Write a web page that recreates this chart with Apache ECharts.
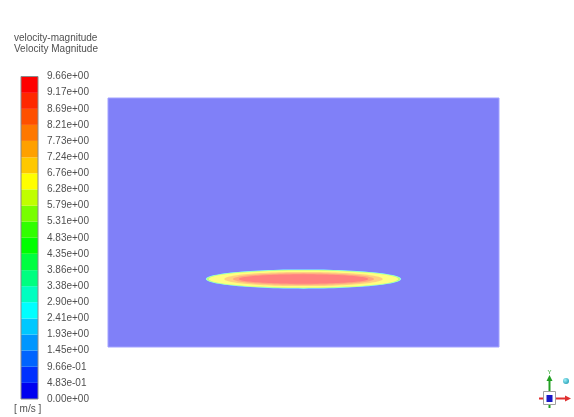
<!DOCTYPE html>
<html>
<head>
<meta charset="utf-8">
<title>velocity-magnitude</title>
<script src="https://cdn.jsdelivr.net/npm/echarts@6/dist/echarts.min.js"></script>
<style>
  html, body { margin: 0; padding: 0; background: #ffffff; }
  #chart { width: 574px; height: 417px; }
</style>
</head>
<body>
<div id="chart"></div>
<script>
// Contour levels of the colour map [m/s]
const levels = [0, 0.483, 0.966, 1.45, 1.93, 2.41, 2.90, 3.38, 3.86, 4.35, 4.83,
                5.31, 5.79, 6.28, 6.76, 7.24, 7.73, 8.21, 8.69, 9.17, 9.66];
const tickLabels = ['0.00e+00', '4.83e-01', '9.66e-01', '1.45e+00', '1.93e+00', '2.41e+00',
                    '2.90e+00', '3.38e+00', '3.86e+00', '4.35e+00', '4.83e+00', '5.31e+00',
                    '5.79e+00', '6.28e+00', '6.76e+00', '7.24e+00', '7.73e+00', '8.21e+00',
                    '8.69e+00', '9.17e+00', '9.66e+00'];

// Computational domain extents
const domainX = [0, 1.57];
const domainY = [0, 1];

// Jet region: lower bound of each contour band, with its half length / half height
const jetCenter = [0.785, 0.273];
const jetBandValue = [2.41, 5.31, 6.28, 7.24, 8.21, 9.17];
const jetHalfLength = [0.392, 0.389, 0.380, 0.318, 0.283, 0.260];
const jetHalfHeight = [0.0386, 0.0366, 0.0342, 0.0285, 0.0237, 0.0190];

// Rainbow palette, one colour per band (lowest first)
const bandColors = ['#0000f0', '#0030ff', '#0064ff', '#0096ff', '#00c8ff', '#00ffff',
                    '#00ffc0', '#00ff80', '#00ff40', '#00ff00', '#30ff00', '#78ff00',
                    '#c0ff00', '#ffff00', '#ffc800', '#ffa000', '#ff7800', '#ff5000',
                    '#ff2800', '#ff0000'];

function bandIndex(v) {
  for (let i = levels.length - 2; i >= 0; i--) {
    if (v >= levels[i] - 1e-9) return i;
  }
  return 0;
}
// Contours are shown semi-transparent over a white background
function washed(hex) {
  const r = parseInt(hex.slice(1, 3), 16), g = parseInt(hex.slice(3, 5), 16), b = parseInt(hex.slice(5, 7), 16);
  const m = c => Math.round(c * 0.5 + 255 * 0.5);
  return 'rgb(' + m(r) + ',' + m(g) + ',' + m(b) + ')';
}

const chart = echarts.init(document.getElementById('chart'), null, { renderer: 'canvas' });
const FONT = 'Liberation Sans, Arial, sans-serif';
const TEXT = '#505050';

const colorbarData = [];
for (let i = 0; i < levels.length - 1; i++) colorbarData.push([levels[i], levels[i + 1]]);

const jetData = jetBandValue.map((v, i) => [v, jetHalfLength[i], jetHalfHeight[i]]);

chart.setOption({
  animation: false,
  backgroundColor: '#ffffff',
  grid: [
    { left: 108, top: 98, width: 391, height: 249, show: false },
    { left: 21, top: 76.5, width: 17, height: 322.5, show: true, borderColor: '#8a8a8a', borderWidth: 1, backgroundColor: 'transparent', z: 5 }
  ],
  xAxis: [
    { gridIndex: 0, type: 'value', min: domainX[0], max: domainX[1], show: false },
    { gridIndex: 1, type: 'value', min: 0, max: 1, show: false }
  ],
  yAxis: [
    { gridIndex: 0, type: 'value', min: domainY[0], max: domainY[1], show: false },
    {
      gridIndex: 1, type: 'value', position: 'right',
      min: levels[0], max: levels[levels.length - 1], interval: levels[1] - levels[0],
      axisLine: { show: false }, axisTick: { show: false }, splitLine: { show: false },
      axisLabel: {
        margin: 9, color: TEXT, fontSize: 10, fontFamily: FONT,
        showMinLabel: true, showMaxLabel: true,
        formatter: v => tickLabels[Math.round(v / (levels[1] - levels[0]))]
      }
    }
  ],
  graphic: [
    { type: 'text', left: 14, top: 33.5, style: { text: 'velocity-magnitude', fill: TEXT, font: '10px ' + FONT } },
    { type: 'text', left: 14, top: 44.5, style: { text: 'Velocity Magnitude', fill: TEXT, font: '10px ' + FONT } },
    { type: 'text', left: 14, top: 404, style: { text: '[ m/s ]', fill: TEXT, font: '10px ' + FONT } },
    // coordinate triad
    { type: 'group', children: [
      { type: 'line', shape: { x1: 549.5, y1: 391, x2: 549.5, y2: 380 }, style: { stroke: '#22a022', lineWidth: 2 } },
      { type: 'polygon', shape: { points: [[546.5, 381], [552.5, 381], [549.5, 375]] }, style: { fill: '#22a022' } },
      { type: 'text', style: { text: 'Y', x: 549.5, y: 372, fill: '#22a022', font: '6px ' + FONT, align: 'center', verticalAlign: 'middle' } },
      { type: 'line', shape: { x1: 556, y1: 398.5, x2: 566, y2: 398.5 }, style: { stroke: '#e03030', lineWidth: 2 } },
      { type: 'polygon', shape: { points: [[565, 395.5], [565, 401.5], [571, 398.5]] }, style: { fill: '#e03030' } },
      { type: 'line', shape: { x1: 539, y1: 398.5, x2: 543, y2: 398.5 }, style: { stroke: '#e03030', lineWidth: 2 } },
      { type: 'line', shape: { x1: 549.5, y1: 404, x2: 549.5, y2: 408 }, style: { stroke: '#22a022', lineWidth: 2 } },
      { type: 'rect', shape: { x: 543.5, y: 391.5, width: 12, height: 13 }, style: { fill: 'none', stroke: '#a0a0a0', lineWidth: 1 } },
      { type: 'rect', shape: { x: 546.5, y: 395, width: 6, height: 7 }, style: { fill: '#1818c8' } },
      { type: 'circle', shape: { cx: 566, cy: 381, r: 3 }, style: {
        fill: new echarts.graphic.RadialGradient(0.35, 0.35, 0.8, [
          { offset: 0, color: '#9ff0f8' }, { offset: 1, color: '#1898b0' }])
      } }
    ] }
  ],
  series: [
    {
      // background field (lowest band fills the domain)
      type: 'custom', xAxisIndex: 0, yAxisIndex: 0, coordinateSystem: 'cartesian2d',
      data: [[domainX[0], domainX[1], domainY[0], domainY[1], levels[0]]],
      renderItem: (params, api) => {
        const p0 = api.coord([api.value(0), api.value(3)]);
        const p1 = api.coord([api.value(1), api.value(2)]);
        return {
          type: 'rect',
          shape: { x: p0[0], y: p0[1], width: p1[0] - p0[0], height: p1[1] - p0[1] },
          style: { fill: washed(bandColors[bandIndex(api.value(4))]), stroke: '#a2a2ff', lineWidth: 1 }
        };
      },
      silent: true, z: 1
    },
    {
      // nested contour bands of the jet
      type: 'custom', xAxisIndex: 0, yAxisIndex: 0, coordinateSystem: 'cartesian2d',
      data: jetData,
      renderItem: (params, api) => {
        const a = api.value(1), b = api.value(2);
        const pts = [];
        for (let k = 0; k < 120; k++) {
          const t = k / 120 * Math.PI * 2;
          pts.push(api.coord([jetCenter[0] + a * Math.cos(t), jetCenter[1] + b * Math.sin(t)]));
        }
        return {
          type: 'polygon', shape: { points: pts },
          style: { fill: washed(bandColors[bandIndex(api.value(0))]) }
        };
      },
      silent: true, z: 2
    },
    {
      // colour legend bar
      type: 'custom', xAxisIndex: 1, yAxisIndex: 1, coordinateSystem: 'cartesian2d',
      data: colorbarData,
      renderItem: (params, api) => {
        const lo = api.value(0), hi = api.value(1);
        const p0 = api.coord([0, hi]);
        const p1 = api.coord([1, lo]);
        return {
          type: 'rect',
          shape: { x: p0[0], y: p0[1], width: p1[0] - p0[0], height: p1[1] - p0[1] },
          style: { fill: bandColors[bandIndex(lo)] }
        };
      },
      silent: true, z: 2
    }
  ]
});
</script>
</body>
</html>
